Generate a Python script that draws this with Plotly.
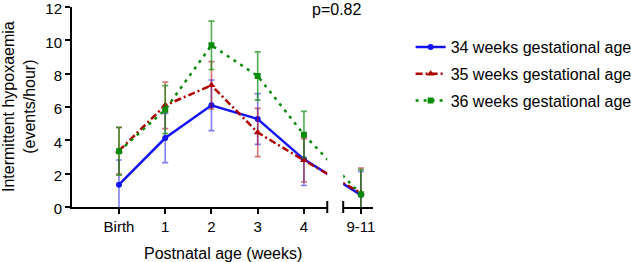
import plotly.graph_objects as go

# ---- data ----
categories = ["Birth", "1", "2", "3", "4", "9-11"]
x_pos = [0, 1, 2, 3, 4, 5.23]          # position of each category on the (broken) axis
y_ticks = [0, 2, 4, 6, 8, 10, 12]

ga34 = [1.34, 4.14, 6.10, 5.28, 2.86, 0.73]
ga34_err = [1.48, 1.48, 1.52, 1.52, 1.57, 1.40]
ga35 = [3.38, 6.10, 7.30, 4.47, 2.80, 0.84]
ga35_err = [1.40, 1.40, 1.42, 1.45, 1.30, 1.50]
ga36 = [3.34, 5.84, 9.70, 7.86, 4.34, 0.76]
ga36_err = [1.43, 1.44, 1.45, 1.45, 1.40, 1.48]

series_names = ["34 weeks gestational age", "35 weeks gestational age", "36 weeks gestational age"]
p_text = "p=0.82"

FONT = "Liberation Sans, Arial, sans-serif"

styles = [
    dict(y=ga34, err=ga34_err, color="rgb(20,20,245)", ecolor="rgba(20,20,245,0.55)",
         dash="solid", symbol="circle", msize=6),
    dict(y=ga35, err=ga35_err, color="rgb(175,0,0)", ecolor="rgba(175,0,0,0.55)",
         dash="7px,3px,2px,3px", symbol="triangle-up", msize=7),
    dict(y=ga36, err=ga36_err, color="rgb(10,140,10)", ecolor="rgba(10,140,10,0.7)",
         dash="3px,5px", symbol="square", msize=6),
]

fig = go.Figure()
for i, (name, st) in enumerate(zip(series_names, styles)):
    for xa, show in (("x", True), ("x2", False)):
        fig.add_trace(go.Scatter(
            x=x_pos, y=st["y"], name=name, xaxis=xa, yaxis="y",
            mode="lines+markers", showlegend=show, legendgroup=name,
            line=dict(color=st["color"], width=2.5, dash=st["dash"]),
            marker=dict(color=st["color"], symbol=st["symbol"], size=st["msize"]),
            error_y=dict(type="data", array=st["err"], arrayminus=st["err"],
                         color=st["ecolor"], thickness=1.6, width=3),
            cliponaxis=True,
        ))

axis_common = dict(
    showline=True, linecolor="black", linewidth=2, ticks="outside", ticklen=5,
    tickwidth=2, tickcolor="black", showgrid=False, zeroline=False,
    ticklabeloverflow="allow",
    tickfont=dict(family=FONT, size=15, color="black"),
)

fig.update_layout(
    width=631, height=262,
    margin=dict(l=72, r=258, t=7, b=55, autoexpand=False),
    paper_bgcolor="white", plot_bgcolor="white",
    font=dict(family=FONT, size=16, color="black"),
    xaxis=dict(domain=[0, 0.848], range=[-1.016, 4.504], anchor="y",
               tickvals=x_pos[:5], ticktext=categories[:5], **axis_common),
    xaxis2=dict(domain=[0.901, 1.0], range=[4.85, 5.49], anchor="y",
                tickvals=x_pos[5:], ticktext=categories[5:], **axis_common),
    yaxis=dict(range=[0, 12], tickvals=y_ticks, anchor="x", ticklabelshift=2, **axis_common),
    legend=dict(x=1.125, xanchor="left", y=0.885, yanchor="top",
                font=dict(family=FONT, size=16, color="black"),
                tracegroupgap=3, bgcolor="rgba(0,0,0,0)"),
    showlegend=True,
)

# y axis title
fig.add_annotation(text="Intermittent hypoxaemia<br>(events/hour)", textangle=-90,
                   xref="paper", yref="paper", x=0, y=0.5, xanchor="center", yanchor="middle",
                   xshift=-53, showarrow=False, font=dict(family=FONT, size=16, color="black"))
# x axis title centred under both segments
fig.add_annotation(text="Postnatal age (weeks)", xref="paper", yref="paper", x=0.5, y=0,
                   xanchor="center", yanchor="middle", yshift=-46, showarrow=False,
                   font=dict(family=FONT, size=16, color="black"))
# p value
fig.add_annotation(text=p_text, xref="paper", yref="paper", x=0.88, y=0.99,
                   xanchor="center", yanchor="middle", showarrow=False,
                   font=dict(family=FONT, size=16, color="black"))

# axis-break end bars
fig.add_shape(type="line", xref="x domain", yref="y domain", x0=1, x1=1, y0=-0.03, y1=0.03,
              line=dict(color="black", width=2))
fig.add_shape(type="line", xref="x2 domain", yref="y domain", x0=0, x1=0, y0=-0.03, y1=0.03,
              line=dict(color="black", width=2))

fig.write_html("out.html", config={"displayModeBar": False},
               post_script="document.body.style.margin='0';document.body.style.padding='0';")
